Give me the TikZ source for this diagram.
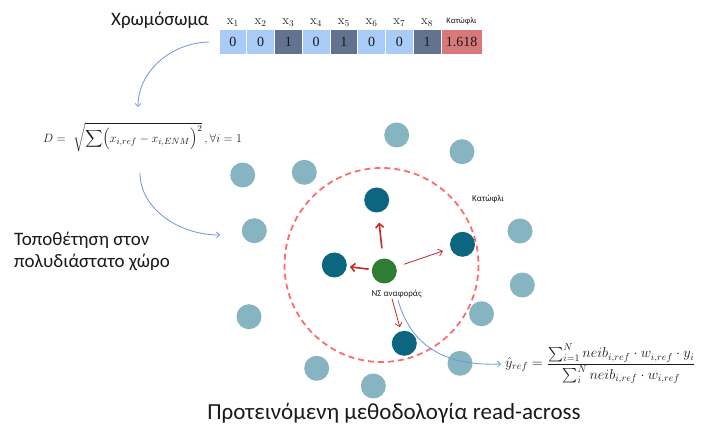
\documentclass[tikz,border=0pt]{standalone}
\usepackage{fontspec}
\usepackage{amsmath}
\newfontfamily\carl{Carlito}
\newfontfamily\cellfont{Liberation Serif}
\usetikzlibrary{arrows.meta}
\definecolor{cl}{HTML}{A9CBF7}
\definecolor{cd}{HTML}{62728F}
\definecolor{cr}{HTML}{D9787A}
\definecolor{dotlight}{HTML}{86B5C1}
\definecolor{dotdark}{HTML}{0D6680}
\definecolor{dotgreen}{HTML}{2E7D32}
\definecolor{arrred}{HTML}{C62828}
\definecolor{arrblue}{HTML}{6F95D8}
\definecolor{circred}{HTML}{FF6B6B}
\definecolor{txt}{HTML}{1A1A1A}
\begin{document}
\begin{tikzpicture}[x=1pt,y=-1pt,
  lt/.style={circle,fill=dotlight,minimum size=25pt,inner sep=0pt},
  dk/.style={circle,fill=dotdark,minimum size=25pt,inner sep=0pt},
  gr/.style={circle,fill=dotgreen,minimum size=25pt,inner sep=0pt},
  cell/.style={draw=white,line width=0.6pt,minimum height=25pt,inner sep=0pt,text=txt,font=\cellfont\fontsize{14}{14}\selectfont},
  lab/.style={text=txt,inner sep=0pt},
  redthick/.style={draw=arrred,line width=1.6pt,-{Straight Barb[length=4pt,width=8pt]}},
  redthin/.style={draw=arrred,line width=0.8pt,-{Straight Barb[length=4pt,width=7pt]}},
  bluearr/.style={draw=arrblue,line width=0.8pt,-{Straight Barb[length=3pt,width=6pt]}}
]
\useasboundingbox (0,0) rectangle (713,430);

% chromosome
\node[lab,anchor=base west,font=\carl\fontsize{19}{19}\selectfont] (chrom) at (111,25.5) {Χρωμόσωμα};
\foreach \v/\c [count=\i] in {0/cl,0/cl,1/cd,0/cl,1/cd,0/cl,0/cl,1/cd}{
  \node[cell,fill=\c,minimum width=27.75pt] (c\i) at ({219+13.875+27.75*(\i-1)},41.5) {\v};
  \node[lab,anchor=base,font=\fontsize{13}{13}\selectfont] (l\i) at ({219+13.875+27.75*(\i-1)},25) {$\mathrm{x}_{\i}$};
}
\node[cell,fill=cr,minimum width=41pt] (thr) at (461.5,41.5) {1.618};
\node[lab,anchor=base,font=\carl\fontsize{8.5}{8.5}\selectfont] (thrlab) at (461.5,24) {Κατώφλι};

% distance formula
\node[lab,anchor=west,font=\fontsize{13}{13}\selectfont] (fD) at (43,137)
  {$D = \ \sqrt{\displaystyle\sum\Bigl(x_{i,ref} - x_{i,ENM}\Bigr)^{2}}\,, \forall i = 1$};

\coordinate (a1s) at (209,42);
\coordinate (a1e) at (138,107);
\draw[bluearr] (a1s) .. controls (170,43) and (138,72) .. (a1e);

% left text
\node[lab,anchor=base west,align=left,font=\carl\fontsize{19}{22}\selectfont] (place) at (14,268)
  {Τοποθέτηση στον\\πολυδιάστατο χώρο};
\coordinate (a2s) at (140,173);
\coordinate (a2e) at (220,235);
\draw[bluearr] (a2s) .. controls (140,208) and (178,235) .. (a2e);

% threshold circle
\coordinate (ctr) at (381.5,265);
\draw[circred,line width=1.8pt,dash pattern=on 6pt off 4pt] (ctr) circle (97);
\node[lab,font=\carl\fontsize{9}{9}\selectfont] (kat) at (488,199) {Κατώφλι};

% light dots
\foreach \p [count=\i] in {(396.7,135),(462,151.7),(242.7,175),(304.3,172.3),(254.3,230.7),(520,231),(522.3,285),(249,316.7),(481.5,313.8),(316.7,368.3),(460,363.3),(373.3,386)}
  \node[lt] (o\i) at \p {};

% dark dots
\node[dk] (dt) at (376.7,200) {};
\node[dk] (dr) at (462.5,244.3) {};
\node[dk] (dl) at (334.3,265) {};
\node[dk] (db) at (404.3,343.3) {};
\node[gr] (ref) at (384.3,271) {};
\node[lab,font=\carl\fontsize{9}{9}\selectfont] (reflab) at (396.7,294.5) {ΝΣ αναφοράς};

% red arrows
\draw[redthick,shorten <=10pt,shorten >=10pt] (ref) -- (dt);
\draw[redthick,shorten <=3pt,shorten >=3pt] (ref) -- (dl);
\draw[redthin,shorten <=8pt,shorten >=8pt] (ref) -- (dr);
\draw[redthin,shorten <=16pt,shorten >=4pt] (ref) -- (db);

% prediction formula
\node[lab,anchor=west,font=\fontsize{14.5}{14.5}\selectfont] (fy) at (505,364)
  {$\hat{y}_{ref} = \dfrac{\sum\nolimits_{i=1}^{N} neib_{i,ref}\cdot w_{i,ref}\cdot y_{i}}{\sum\nolimits_{i}^{N} neib_{i,ref}\cdot w_{i,ref}}$};
\draw[bluearr] (398,300) .. controls (412,350) and (450,366) .. ([xshift=-4pt]fy.west);

% title
\node[lab,anchor=base,font=\carl\fontsize{23}{23}\selectfont] (title) at (394,419.5)
  {Προτεινόμενη μεθοδολογία read-across};
\end{tikzpicture}
\end{document}
